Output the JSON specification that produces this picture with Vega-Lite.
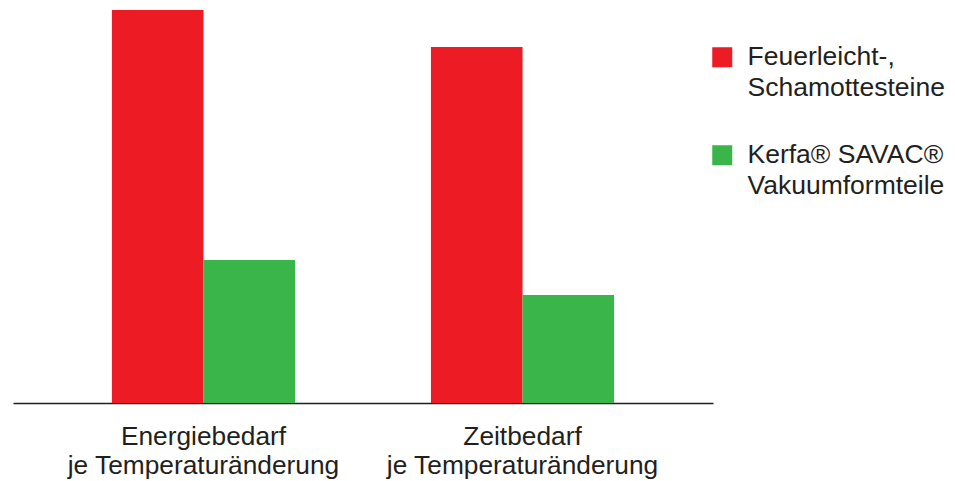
{
  "$schema": "https://vega.github.io/schema/vega-lite/v6.json",
  "autosize": {"type": "none"},
  "width": 700,
  "height": 393,
  "padding": {"left": 13, "top": 10, "right": 242, "bottom": 78},
  "background": "#ffffff",
  "config": {"view": {"stroke": null}, "font": "Liberation Sans"},
  "data": {
    "values": [
      {"kategorie": "Energiebedarf|je Temperaturänderung", "material": "Feuerleicht-,|Schamottesteine", "wert": 100},
      {"kategorie": "Energiebedarf|je Temperaturänderung", "material": "Kerfa® SAVAC®|Vakuumformteile", "wert": 36.4},
      {"kategorie": "Zeitbedarf|je Temperaturänderung", "material": "Feuerleicht-,|Schamottesteine", "wert": 90.6},
      {"kategorie": "Zeitbedarf|je Temperaturänderung", "material": "Kerfa® SAVAC®|Vakuumformteile", "wert": 27.5}
    ]
  },
  "mark": {"type": "bar"},
  "encoding": {
    "x": {
      "field": "kategorie",
      "type": "nominal",
      "sort": null,
      "scale": {"paddingInner": 0.426, "paddingOuter": 0.31},
      "axis": {
        "title": null,
        "labelAngle": 0,
        "labelExpr": "split(datum.label, '|')",
        "labelFont": "Liberation Sans",
        "labelFontSize": 26.3,
        "labelLineHeight": 29,
        "labelColor": "#231f20",
        "labelPadding": 20,
        "labelLimit": 0,
        "ticks": false,
        "tickSize": 0,
        "domainColor": "#231f20",
        "domainWidth": 1.3,
        "domainOpacity": 1,
        "grid": false
      }
    },
    "xOffset": {"field": "material", "type": "nominal", "sort": null, "scale": {"paddingInner": 0, "paddingOuter": 0}},
    "y": {
      "field": "wert",
      "type": "quantitative",
      "scale": {"domain": [0, 100], "nice": false, "zero": true},
      "axis": null
    },
    "color": {
      "field": "material",
      "type": "nominal",
      "sort": null,
      "scale": {"domain": ["Feuerleicht-,|Schamottesteine", "Kerfa® SAVAC®|Vakuumformteile"], "range": ["#ed1c24", "#39b54a"]},
      "legend": {
        "title": null,
        "orient": "none",
        "legendX": 696,
        "legendY": 34,
        "padding": 0,
        "symbolType": "square",
        "symbolSize": 400,
        "symbolStrokeWidth": 0,
        "labelFont": "Liberation Sans",
        "labelFontSize": 26.5,
        "labelColor": "#231f20",
        "labelLimit": 0,
        "labelOffset": 12,
        "rowPadding": 40,
        "labelExpr": "split(datum.label, '|')",
        "encode": {"labels": {"update": {"lineHeight": {"value": 31}}}}
      }
    }
  }
}
